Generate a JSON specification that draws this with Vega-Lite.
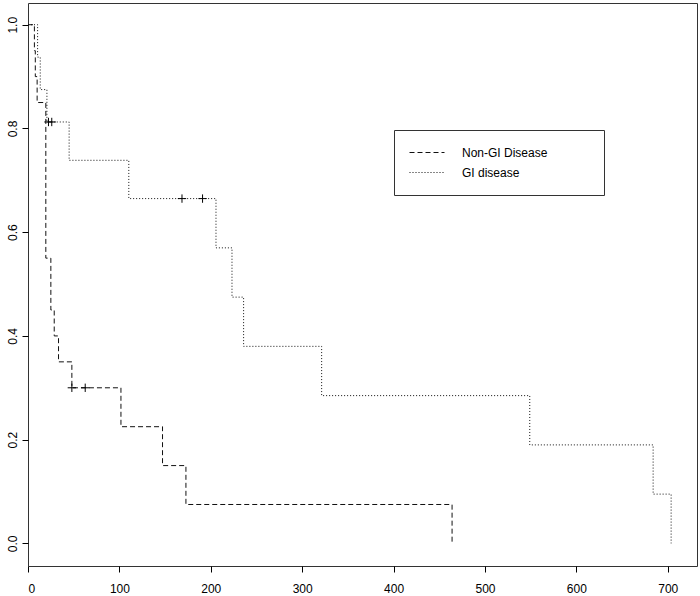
{
  "$schema": "https://vega.github.io/schema/vega-lite/v6.json",
  "width": 669,
  "height": 563,
  "autosize": {"type": "none"},
  "padding": {"left": 28, "top": 3, "right": 3, "bottom": 30},
  "background": "white",
  "config": {
    "view": {"stroke": "#333", "strokeWidth": 1},
    "font": "Liberation Sans",
    "axis": {"grid": false, "domain": false, "tickColor": "#000", "tickSize": 6, "labelColor": "#000", "labelFontSize": 12, "labelFont": "Liberation Sans", "title": null},
    "legend": {
      "orient": "none", "legendX": 366, "legendY": 127,
      "strokeColor": "#333", "fillColor": "white", "padding": 15,
      "symbolType": "stroke", "symbolSize": 1225, "symbolStrokeWidth": 1, "symbolStrokeColor": "#111",
      "labelFont": "Liberation Sans", "labelFontSize": 12, "labelColor": "#000", "labelOffset": 17,
      "clipHeight": 15, "rowPadding": 5,
      "titleOrient": "right", "titlePadding": 42, "titleFontSize": 12, "titleFont": "Liberation Sans", "titleColor": "#000"
    }
  },
  "datasets": {
    "curves": [
      {"group": "Non-GI Disease", "time": 0, "survival": 1.0},
      {"group": "Non-GI Disease", "time": 7, "survival": 0.95},
      {"group": "Non-GI Disease", "time": 8, "survival": 0.90},
      {"group": "Non-GI Disease", "time": 10, "survival": 0.85},
      {"group": "Non-GI Disease", "time": 19.5, "survival": 0.55},
      {"group": "Non-GI Disease", "time": 25, "survival": 0.45},
      {"group": "Non-GI Disease", "time": 28.7, "survival": 0.40},
      {"group": "Non-GI Disease", "time": 33.4, "survival": 0.35},
      {"group": "Non-GI Disease", "time": 48, "survival": 0.30},
      {"group": "Non-GI Disease", "time": 101.7, "survival": 0.225},
      {"group": "Non-GI Disease", "time": 147.2, "survival": 0.15},
      {"group": "Non-GI Disease", "time": 172.8, "survival": 0.075},
      {"group": "Non-GI Disease", "time": 464, "survival": 0.0},
      {"group": "GI disease", "time": 0, "survival": 1.0},
      {"group": "GI disease", "time": 10.5, "survival": 0.9375},
      {"group": "GI disease", "time": 13.4, "survival": 0.875},
      {"group": "GI disease", "time": 20.7, "survival": 0.8125},
      {"group": "GI disease", "time": 45, "survival": 0.7386},
      {"group": "GI disease", "time": 110.3, "survival": 0.6648},
      {"group": "GI disease", "time": 205.7, "survival": 0.5698},
      {"group": "GI disease", "time": 223.2, "survival": 0.4748},
      {"group": "GI disease", "time": 235.9, "survival": 0.3799},
      {"group": "GI disease", "time": 321.3, "survival": 0.2849},
      {"group": "GI disease", "time": 549, "survival": 0.1899},
      {"group": "GI disease", "time": 684, "survival": 0.095},
      {"group": "GI disease", "time": 703.7, "survival": 0.0}
    ],
    "censored": [
      {"group": "Non-GI Disease", "time": 48, "survival": 0.30},
      {"group": "Non-GI Disease", "time": 62.6, "survival": 0.30},
      {"group": "GI disease", "time": 22.4, "survival": 0.8125},
      {"group": "GI disease", "time": 26, "survival": 0.8125},
      {"group": "GI disease", "time": 168.5, "survival": 0.6648},
      {"group": "GI disease", "time": 191, "survival": 0.6648}
    ]
  },
  "layer": [
    {
      "data": {"name": "curves"},
      "mark": {"type": "line", "interpolate": "step-after", "strokeWidth": 1, "color": "#111"},
      "encoding": {
        "x": {"field": "time", "type": "quantitative", "scale": {"domain": [0, 732], "nice": false, "zero": false},
              "axis": {"values": [0, 100, 200, 300, 400, 500, 600, 700], "labelPadding": 11, "title": null}},
        "y": {"field": "survival", "type": "quantitative", "scale": {"domain": [-0.0436, 1.0419], "nice": false, "zero": false},
              "axis": {"values": [0, 0.2, 0.4, 0.6, 0.8, 1.0], "format": ".1f", "labelAngle": -90, "labelAlign": "center", "labelBaseline": "bottom", "labelPadding": 3, "title": null}},
        "strokeDash": {"field": "group", "type": "nominal",
                       "scale": {"domain": ["Non-GI Disease", "GI disease"], "range": [[5, 3], [1, 2]]},
                       "legend": {"title": "\u2003"}}
      }
    },
    {
      "data": {"name": "censored"},
      "mark": {"type": "point", "shape": "M-1,0L1,0M0,-1L0,1", "filled": false, "size": 70, "strokeWidth": 1, "color": "#000", "opacity": 1},
      "encoding": {
        "x": {"field": "time", "type": "quantitative"},
        "y": {"field": "survival", "type": "quantitative"}
      }
    }
  ]
}
